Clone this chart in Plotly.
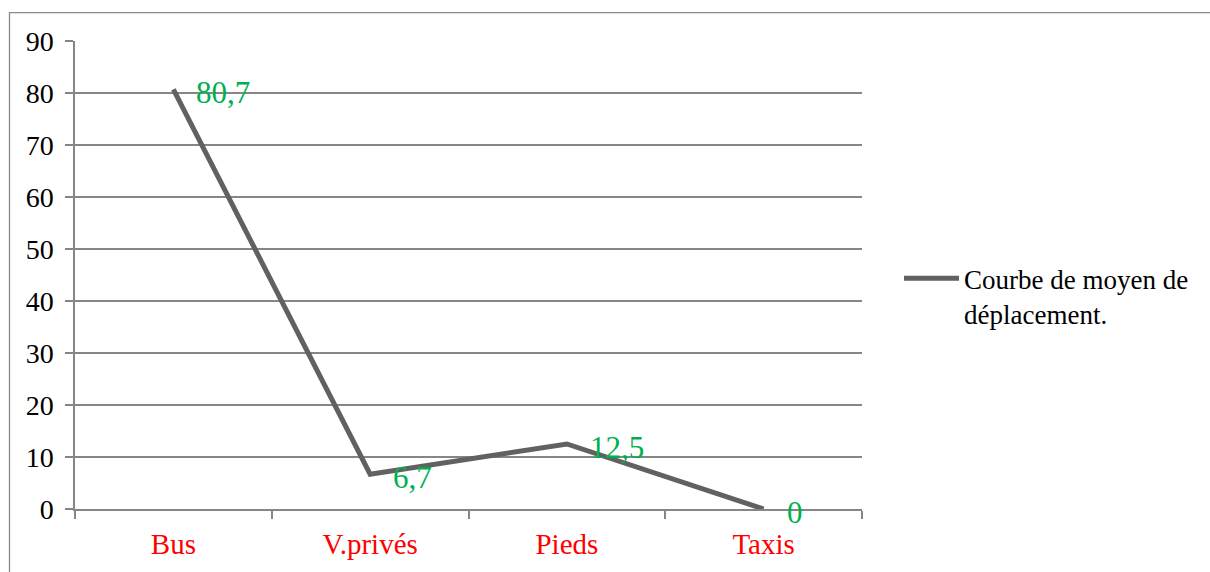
import plotly.graph_objects as go

categories = ["Bus", "V.privés", "Pieds", "Taxis"]
values = [80.7, 6.7, 12.5, 0]
series_name = "Courbe de moyen de<br>déplacement."
y_ticks = [0, 10, 20, 30, 40, 50, 60, 70, 80, 90]

FONT = "Liberation Serif, Times New Roman, serif"
GRID = "#868686"
L, R, T, B = 75, 348, 41, 61
W, H = 1210, 572
pw, ph = W - L - R, H - T - B

fig = go.Figure()
fig.add_trace(go.Scatter(
    x=categories, y=values, mode="lines", name=series_name,
    line=dict(color="#616161", width=5), cliponaxis=False,
))

for c, v in zip(categories, values):
    fig.add_annotation(
        x=c, y=v, text=f"{v:g}".replace(".", ","), showarrow=False,
        xanchor="left", yanchor="middle", xshift=21, yshift=-3,
        font=dict(family=FONT, size=31, color="#00B050"),
    )

# outer chart border
fig.add_shape(type="rect", xref="paper", yref="paper",
              x0=(9.5 - L) / pw, x1=(W + 5 - L) / pw,
              y0=(H - B - (H + 5)) / ph, y1=(H - B - 12.5) / ph,
              line=dict(color="#8a8a8a", width=1.3), fillcolor="rgba(0,0,0,0)",
              layer="below")

fig.update_layout(
    width=W, height=H,
    margin=dict(l=L, r=R, t=T, b=B, pad=0),
    paper_bgcolor="white", plot_bgcolor="white",
    font=dict(family=FONT, size=28, color="black"),
    showlegend=True,
    legend=dict(x=(899 - L) / pw, y=(H - B - 255) / ph, xanchor="left", yanchor="top",
                valign="top", itemwidth=55, font=dict(family=FONT, size=27, color="black"),
                bgcolor="rgba(0,0,0,0)", tracegroupgap=0),
    xaxis=dict(
        type="category", range=[-0.5, 3.5], tickson="boundaries",
        ticks="outside", ticklen=8, tickcolor=GRID, tickwidth=1.5,
        showline=True, linecolor=GRID, linewidth=1.5, showgrid=False,
        tickfont=dict(family=FONT, size=29, color="#FF0000"),
        ticklabelstandoff=8, zeroline=False,
    ),
    yaxis=dict(
        range=[0, 90], tickvals=y_ticks, ticks="outside", ticklen=8,
        tickcolor=GRID, tickwidth=1.5, showline=True, linecolor=GRID, linewidth=1.5,
        showgrid=True, gridcolor=GRID, gridwidth=1.5, zeroline=False,
        tickfont=dict(family=FONT, size=28, color="black"),
        ticklabelstandoff=6,
    ),
)

fig.write_html("out.html")
